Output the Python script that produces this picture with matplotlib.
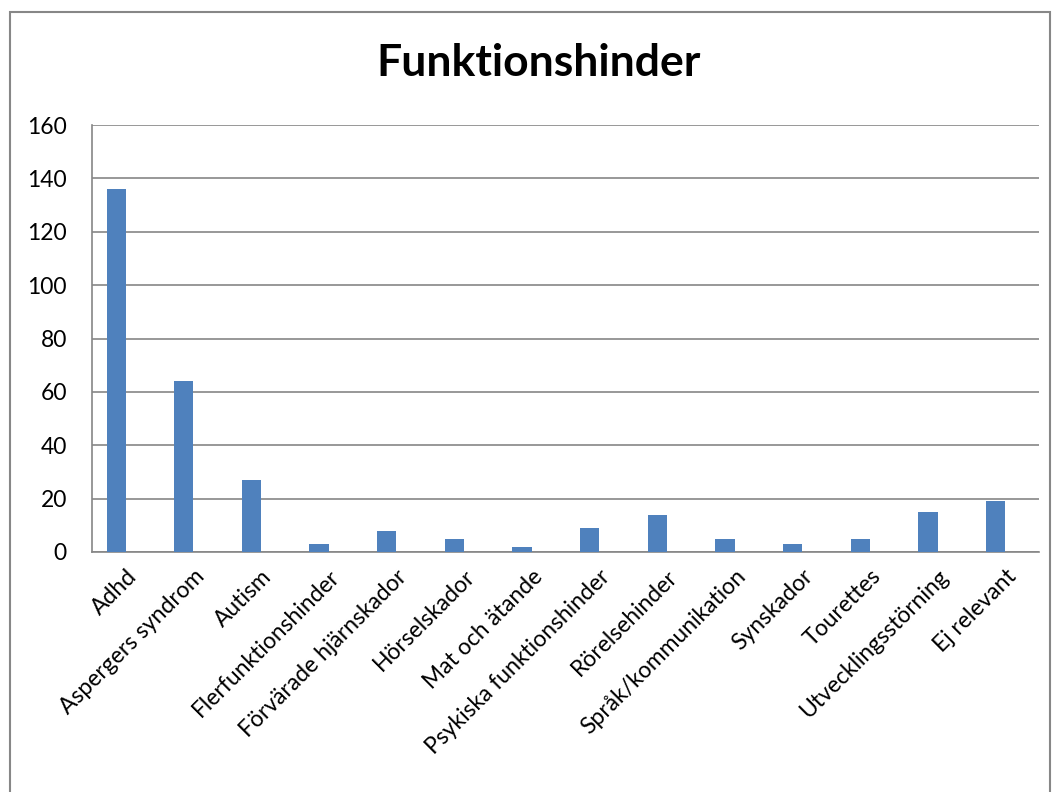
import matplotlib.pyplot as plt
from matplotlib.patches import Rectangle
import numpy as np

plt.rcParams['font.family'] = ['Lato', 'DejaVu Sans']

categories = ['Adhd', 'Aspergers syndrom', 'Autism', 'Flerfunktionshinder',
              'Förvärade hjärnskador', 'Hörselskador', 'Mat och ätande',
              'Psykiska funktionshinder', 'Rörelsehinder', 'Språk/kommunikation',
              'Synskador', 'Tourettes', 'Utvecklingsstörning', 'Ej relevant']
counts = [136, 64, 27, 3, 8, 5, 2, 9, 14, 5, 3, 5, 15, 19]
yticks = [0, 20, 40, 60, 80, 100, 120, 140, 160]

W, H = 1056, 792
fig = plt.figure(figsize=(W / 100, H / 100), dpi=100)
# outer chart frame
fig.patches.append(Rectangle((10 / W, -0.01), 1040 / W, 1 - 12 / H + 0.01,
                             transform=fig.transFigure, fill=False,
                             edgecolor='#878787', linewidth=1.5))

ax = fig.add_axes([92 / W, 1 - 552 / H, 947 / W, 427 / H])
x = np.arange(len(categories))
bar_w = 0.285
# bars sit left of the category centre (clustered layout)
ax.bar(x - bar_w / 2, counts, width=bar_w, color='#4F81BD', zorder=3)

ax.set_xlim(-0.5, len(categories) - 0.5)
ax.set_ylim(0, 160)
ax.set_yticks(yticks)
ax.yaxis.grid(True, color='#868686', linewidth=1.2)
ax.set_axisbelow(True)
ax.tick_params(axis='y', labelsize=16.5, length=0, pad=18)
ax.set_xticks(x)
ax.set_xticklabels(categories, rotation=45, ha='right', rotation_mode='anchor',
                   fontsize=16.5)
ax.tick_params(axis='x', length=0, pad=10)
for side in ['top', 'right']:
    ax.spines[side].set_visible(False)
for side in ['left', 'bottom']:
    ax.spines[side].set_color('#868686')
    ax.spines[side].set_linewidth(1.2)

fig.text(539 / W, 1 - 63 / H, 'Funktionshinder', ha='center', va='center',
         fontsize=32, fontweight='bold')

fig.savefig('out.png', dpi=100)
